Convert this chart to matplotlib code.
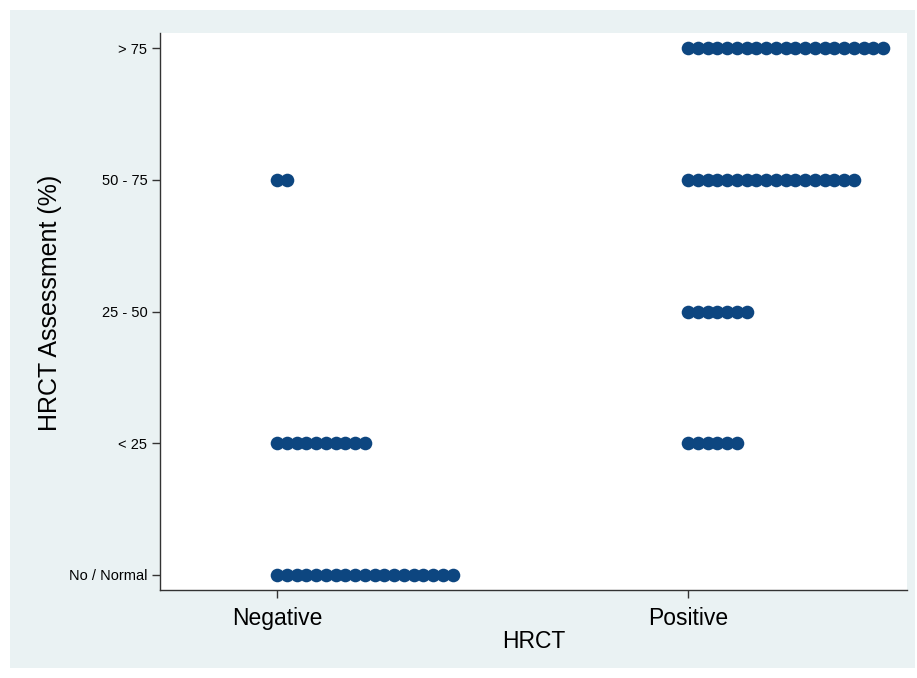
import numpy as np
import matplotlib
matplotlib.use("Agg")
import matplotlib.pyplot as plt
from matplotlib.patches import Rectangle

plt.rcParams["font.family"] = ["Liberation Sans", "DejaVu Sans"]

# dot counts per HRCT group and assessment level
groups = ["Negative", "Positive"]
levels = ["No / Normal", "< 25", "25 - 50", "50 - 75", "> 75"]
neg_counts = [19, 10, 0, 2, 0]
pos_counts = [0, 6, 7, 18, 21]

W, H = 917, 678
fig = plt.figure(figsize=(W / 100, H / 100), dpi=100)
fig.patch.set_facecolor("white")
fig.add_artist(Rectangle((10 / W, 10 / H), 905 / W, 658 / H, transform=fig.transFigure,
                         facecolor="#eaf2f3", edgecolor="none", zorder=0))

# axes in pixel box: x 160..907, y 33..590
ax = fig.add_axes([160 / W, (H - 590) / H, 747 / W, 557 / H])
ax.set_facecolor("white")

unit_x = 411.0                    # pixels between group centres
step = 9.75 / unit_x              # dot spacing in data units
col = "#0d4680"
for gi, counts in enumerate([neg_counts, pos_counts]):
    for li, n in enumerate(counts):
        if n == 0:
            continue
        xs = gi + np.arange(n) * step
        ax.plot(xs, np.full(n, li), "o", color=col, markersize=9.8,
                markeredgewidth=0, zorder=3)

ax.set_xlim((160 - 277) / unit_x, (907 - 277) / unit_x)
ax.set_ylim(-15 / 131.75, 4 + 15 / 131.75)
ax.set_xticks(range(len(groups)))
ax.set_xticklabels(groups, fontsize=16.5)
ax.set_yticks(range(len(levels)))
ax.set_yticklabels(levels, fontsize=10.5)
ax.tick_params(axis="both", direction="out", length=6, width=1, color="#333333")
ax.tick_params(axis="x", pad=6)
ax.tick_params(axis="y", pad=3)
for s in ["top", "right"]:
    ax.spines[s].set_visible(False)
for s in ["left", "bottom"]:
    ax.spines[s].set_color("#333333")
    ax.spines[s].set_linewidth(1)
ax.set_xlabel("HRCT", fontsize=16.5, labelpad=0)
ax.set_ylabel("HRCT Assessment (%)", fontsize=18, labelpad=5)
ax.yaxis.label.set_y(0.515)

fig.savefig("out.png", dpi=100, facecolor=fig.get_facecolor())
